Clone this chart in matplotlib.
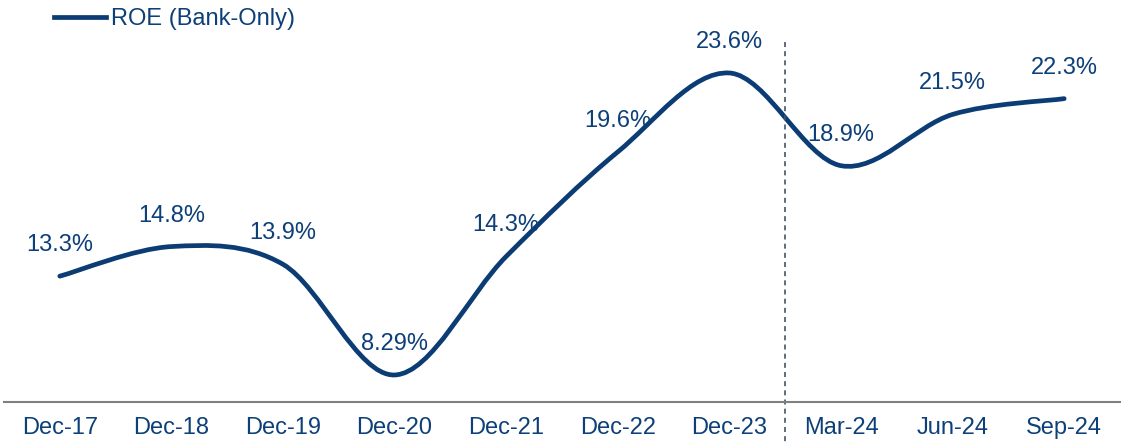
import numpy as np
import matplotlib.pyplot as plt
from matplotlib.path import Path
from matplotlib.patches import PathPatch
from matplotlib.lines import Line2D
import matplotlib.transforms as mtransforms

plt.rcParams['font.family'] = ['Liberation Sans', 'DejaVu Sans']

# Data
periods = ['Dec-17', 'Dec-18', 'Dec-19', 'Dec-20', 'Dec-21', 'Dec-22', 'Dec-23',
           'Mar-24', 'Jun-24', 'Sep-24']
roe = [13.3, 14.8, 13.9, 8.29, 14.3, 19.6, 23.6, 18.9, 21.5, 22.3]
labels = ['13.3%', '14.8%', '13.9%', '8.29%', '14.3%', '19.6%', '23.6%',
          '18.9%', '21.5%', '22.3%']
series_name = 'ROE (Bank-Only)'

navy = '#0B3C74'
text_col = '#0D3F78'

fig = plt.figure(figsize=(11.32, 4.44), dpi=100)
ax = fig.add_axes([4 / 1132, 42 / 444, 1116 / 1132, 402 / 444])

x = np.arange(len(roe), dtype=float)
y = np.array(roe, dtype=float)

# smoothed line (Excel style: cubic Bezier with Catmull-Rom control points)
verts = [(x[0], y[0])]
codes = [Path.MOVETO]
n = len(x)
for i in range(n - 1):
    p0 = np.array([x[max(i - 1, 0)], y[max(i - 1, 0)]])
    p1 = np.array([x[i], y[i]])
    p2 = np.array([x[i + 1], y[i + 1]])
    p3 = np.array([x[min(i + 2, n - 1)], y[min(i + 2, n - 1)]])
    c1 = p1 + (p2 - p0) / 6
    c2 = p2 - (p3 - p1) / 6
    verts += [tuple(c1), tuple(c2), tuple(p2)]
    codes += [Path.CURVE4] * 3
patch = PathPatch(Path(verts, codes), facecolor='none', edgecolor=navy,
                  lw=3.4, capstyle='round', joinstyle='round')
ax.add_patch(patch)

for i, (v, lab) in enumerate(zip(roe, labels)):
    ax.annotate(lab, (i, v), xytext=(0, 31), textcoords='offset pixels',
                ha='center', va='center', fontsize=17, color=text_col)

# dashed separator between Dec-23 and Mar-24
trans = mtransforms.blended_transform_factory(ax.transData, ax.transAxes)
ax.plot([6.5, 6.5], [0.896, -0.11], transform=trans, ls=(0, (3, 2.5)),
        color='#44546A', lw=1.2, clip_on=False)

ax.set_xlim(-0.5, 9.5)
ax.set_ylim(6.92, 27.3)
ax.set_xticks(x)
ax.set_xticklabels(periods, fontsize=17, color=text_col)
ax.tick_params(axis='x', length=0, pad=10.5)
ax.set_yticks([])
for s in ['top', 'right', 'left']:
    ax.spines[s].set_visible(False)
ax.spines['bottom'].set_color('#808080')
ax.spines['bottom'].set_linewidth(1.5)
ax.patch.set_alpha(0)

handle = Line2D([], [], color=navy, lw=3.4)
leg = fig.legend([handle], [series_name], loc='center left',
                 bbox_to_anchor=(54 / 1132, 1 - 19 / 444), frameon=False,
                 fontsize=17, handlelength=2.2, handletextpad=0.2,
                 borderpad=0, borderaxespad=0)
for t in leg.get_texts():
    t.set_color(text_col)

fig.savefig('out.png', dpi=100)
